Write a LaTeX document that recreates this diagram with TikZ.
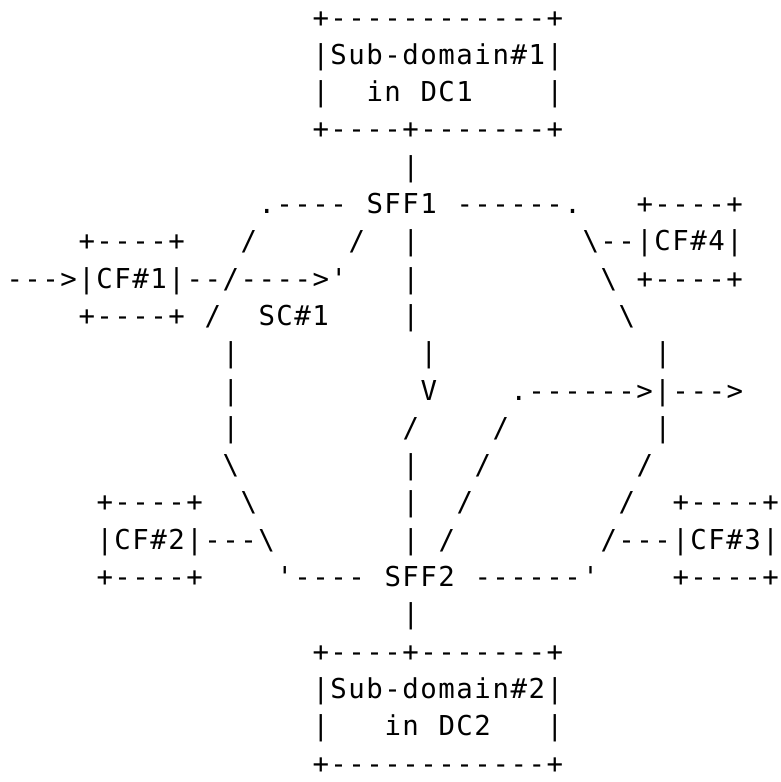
\documentclass[tikz,border=0pt]{standalone}
\usepackage{fontspec}
\newfontfamily\asc[Ligatures=TeXOff,LetterSpace=5.5]{DejaVu Sans Mono}
\newcommand{\bs}{\textbackslash}
\begin{document}
\begin{tikzpicture}[x=18.0pt,y=-37.3pt,
  asc/.style={anchor=base west,inner sep=0pt,outer sep=0pt,font=\asc\fontsize{27.4pt}{30pt}\selectfont,text=black}]
\fill[white] (0pt,0pt) rectangle (781pt,-782pt);
\useasboundingbox (0pt,0pt) rectangle (781pt,-782pt);
\begin{scope}[xshift=6.5pt,yshift=10.3pt]
% row 1-4: Sub-domain#1 box
\node[asc] (r1c17) at (17,1) {+------------+};
\node[asc] (r2c17) at (17,2) {|Sub-domain\#1|};
\node[asc] (r3c17) at (17,3) {|};
\node[asc] (r3c20) at (20,3) {in};
\node[asc] (r3c23) at (23,3) {DC1};
\node[asc] (r3c30) at (30,3) {|};
\node[asc] (r4c17) at (17,4) {+----+-------+};
% row 5
\node[asc] (r5c22) at (22,5) {|};
% row 6
\node[asc] (r6c14) at (14,6) {.----};
\node[asc] (r6c20) at (20,6) {SFF1};
\node[asc] (r6c25) at (25,6) {------.};
\node[asc] (r6c35) at (35,6) {+----+};
% row 7
\node[asc] (r7c4) at (4,7) {+----+};
\node[asc] (r7c13) at (13,7) {/};
\node[asc] (r7c19) at (19,7) {/};
\node[asc] (r7c22) at (22,7) {|};
\node[asc] (r7c32) at (32,7) {\bs--|CF\#4|};
% row 8
\node[asc] (r8c0) at (0,8) {--->|CF\#1|--/---->'};
\node[asc] (r8c22) at (22,8) {|};
\node[asc] (r8c33) at (33,8) {\bs};
\node[asc] (r8c35) at (35,8) {+----+};
% row 9
\node[asc] (r9c4) at (4,9) {+----+};
\node[asc] (r9c11) at (11,9) {/};
\node[asc] (r9c14) at (14,9) {SC\#1};
\node[asc] (r9c22) at (22,9) {|};
\node[asc] (r9c34) at (34,9) {\bs};
% row 10
\node[asc] (r10c12) at (12,10) {|};
\node[asc] (r10c23) at (23,10) {|};
\node[asc] (r10c36) at (36,10) {|};
% row 11
\node[asc] (r11c12) at (12,11) {|};
\node[asc] (r11c23) at (23,11) {V};
\node[asc] (r11c28) at (28,11) {.------>|--->};
% row 12
\node[asc] (r12c12) at (12,12) {|};
\node[asc] (r12c22) at (22,12) {/};
\node[asc] (r12c27) at (27,12) {/};
\node[asc] (r12c36) at (36,12) {|};
% row 13
\node[asc] (r13c12) at (12,13) {\bs};
\node[asc] (r13c22) at (22,13) {|};
\node[asc] (r13c26) at (26,13) {/};
\node[asc] (r13c35) at (35,13) {/};
% row 14
\node[asc] (r14c5) at (5,14) {+----+};
\node[asc] (r14c13) at (13,14) {\bs};
\node[asc] (r14c22) at (22,14) {|};
\node[asc] (r14c25) at (25,14) {/};
\node[asc] (r14c34) at (34,14) {/};
\node[asc] (r14c37) at (37,14) {+----+};
% row 15
\node[asc] (r15c5) at (5,15) {|CF\#2|---\bs};
\node[asc] (r15c22) at (22,15) {|};
\node[asc] (r15c24) at (24,15) {/};
\node[asc] (r15c33) at (33,15) {/---|CF\#3|};
% row 16
\node[asc] (r16c5) at (5,16) {+----+};
\node[asc] (r16c15) at (15,16) {'----};
\node[asc] (r16c21) at (21,16) {SFF2};
\node[asc] (r16c26) at (26,16) {------'};
\node[asc] (r16c37) at (37,16) {+----+};
% row 17
\node[asc] (r17c22) at (22,17) {|};
% row 18-21: Sub-domain#2 box
\node[asc] (r18c17) at (17,18) {+----+-------+};
\node[asc] (r19c17) at (17,19) {|Sub-domain\#2|};
\node[asc] (r20c17) at (17,20) {|};
\node[asc] (r20c21) at (21,20) {in};
\node[asc] (r20c24) at (24,20) {DC2};
\node[asc] (r20c30) at (30,20) {|};
\node[asc] (r21c17) at (17,21) {+------------+};
\end{scope}
\end{tikzpicture}
\end{document}
